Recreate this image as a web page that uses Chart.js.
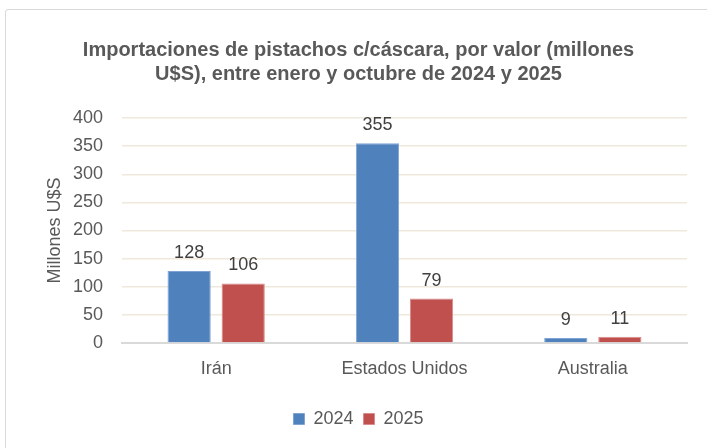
<!DOCTYPE html>
<html>
<head>
<meta charset="utf-8">
<script src="https://cdn.jsdelivr.net/npm/chart.js@4/dist/chart.umd.min.js"></script>
<style>
html,body{margin:0;padding:0;background:#fff;}
#wrap{position:relative;width:707px;height:448px;overflow:hidden;background:#fff;}
#frame{position:absolute;left:5px;top:9px;width:720px;height:460px;border:1px solid #d9d9d9;border-radius:3px;box-sizing:border-box;}
canvas{position:absolute;left:0;top:0;}
</style>
</head>
<body>
<div id="wrap"><div id="frame"></div><canvas id="c" width="707" height="448"></canvas></div>
<script>
const categories = ["Irán", "Estados Unidos", "Australia"];
const values2024 = [128, 355, 9];
const values2025 = [106, 79, 11];
const seriesNames = ["2024", "2025"];
const titleLines = ["Importaciones de pistachos c/cáscara, por valor (millones", "U$S), entre enero y octubre de 2024 y 2025"];
const yAxisTitle = "Millones U$S";
const yMin = 0, yMax = 400, yStep = 50;

const FONT = "'Liberation Sans Narrow','Arial Narrow','Liberation Sans',sans-serif";

const labelPlugin = {
  id: 'barLabels',
  afterDatasetsDraw(chart) {
    const ctx = chart.ctx;
    ctx.save();
    ctx.font = "18px " + FONT;
    ctx.fillStyle = "#404040";
    ctx.textAlign = "center";
    ctx.textBaseline = "bottom";
    chart.data.datasets.forEach((ds, i) => {
      const meta = chart.getDatasetMeta(i);
      meta.data.forEach((bar, j) => {
        ctx.fillText(String(ds.data[j]), bar.x, bar.y - 9);
      });
    });
    ctx.restore();
  }
};

new Chart(document.getElementById('c'), {
  type: 'bar',
  data: {
    labels: categories,
    datasets: [
      { label: seriesNames[0], data: values2024, backgroundColor: '#4F81BD', borderColor: '#7fa4d3', borderWidth: 1 },
      { label: seriesNames[1], data: values2025, backgroundColor: '#C0504D', borderColor: '#d98c8a', borderWidth: 1 }
    ]
  },
  options: {
    responsive: false,
    animation: false,
    devicePixelRatio: 1,
    layout: { padding: { left: 30, right: 20, top: 38, bottom: 10 } },
    datasets: { bar: { categoryPercentage: 0.574, barPercentage: 0.8 } },
    plugins: {
      title: {
        display: true,
        text: titleLines,
        color: '#595959',
        font: { family: FONT, size: 20, weight: 'bold', lineHeight: 1.2 },
        padding: { top: 0, bottom: 32 }
      },
      legend: {
        position: 'bottom',
        labels: {
          color: '#595959',
          font: { family: FONT, size: 18 },
          boxWidth: 11, boxHeight: 11,
          padding: 10
        }
      },
      tooltip: { enabled: false }
    },
    scales: {
      x: {
        grid: { display: false, drawTicks: false },
        border: { display: true, color: '#d9d9d9', width: 2 },
        ticks: { color: '#595959', font: { family: FONT, size: 18 }, padding: 15 },
        afterFit(s) { s.height = 57; }
      },
      y: {
        min: yMin, max: yMax,
        grid: { color: '#eee9dc', lineWidth: 1.5, drawTicks: false },
        border: { display: false },
        ticks: { stepSize: yStep, color: '#595959', font: { family: FONT, size: 18 }, padding: 19 },
        title: { display: true, text: yAxisTitle, color: '#595959', font: { family: FONT, size: 18 }, padding: { top: 14, bottom: 0 } },
        afterFit(s) { s.width = 92; }
      }
    }
  },
  plugins: [labelPlugin]
});
</script>
</body>
</html>
